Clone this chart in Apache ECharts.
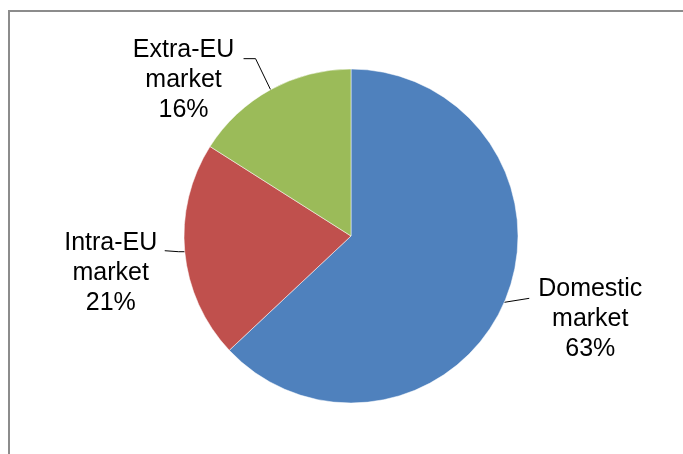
<!DOCTYPE html>
<html>
<head>
<meta charset="utf-8">
<script src="https://cdn.jsdelivr.net/npm/echarts@6/dist/echarts.min.js"></script>
<style>
html,body{margin:0;padding:0;background:#fff;}
#chart{width:683px;height:454px;}
</style>
</head>
<body>
<div id="chart"></div>
<script>
// Data
const categories = ['Domestic market', 'Intra-EU market', 'Extra-EU market'];
const labelLines = [['Domestic', 'market'], ['Intra-EU', 'market'], ['Extra-EU', 'market']];
const values = [63, 21, 16];
const colors = ['#4F81BD', '#C0504D', '#9BBB59'];

// Label placement relative to the slice edge point (styling only)
const labelOffset = [
  { line: [[25, -4]], tx: 86, ty: -28 },
  { line: [[-6, 0], [-20, -1]], tx: -74, ty: -24 },
  { line: [[-15, -31], [-27, -31]], tx: -87, ty: -55 }
];

const chart = echarts.init(document.getElementById('chart'), null, { renderer: 'canvas' });

const option = {
  animation: false,
  backgroundColor: '#fff',
  graphic: [
    { type: 'line', shape: { x1: 9, y1: 11, x2: 683, y2: 11 }, style: { stroke: '#8c8c8c', lineWidth: 2 } },
    { type: 'line', shape: { x1: 9, y1: 10, x2: 9, y2: 454 }, style: { stroke: '#8c8c8c', lineWidth: 2 } }
  ],
  series: [{
    type: 'pie',
    center: [351, 236],
    radius: [0, 167],
    startAngle: 90,
    clockwise: true,
    itemStyle: { borderColor: '#ffffff', borderWidth: 0.5 },
    label: {
      show: true,
      position: 'outside',
      fontFamily: 'Liberation Sans, Arial, sans-serif',
      fontSize: 25,
      lineHeight: 30,
      color: '#000',
      align: 'center',
      formatter: function (p) {
        return labelLines[p.dataIndex].join('\n') + '\n' + p.value + '%';
      }
    },
    labelLine: {
      show: true,
      length: 20,
      length2: 10,
      lineStyle: { color: '#000', width: 1 }
    },
    labelLayout: function (params) {
      const pts = params.labelLinePoints;
      if (!pts) return {};
      const e = pts[0];
      const o = labelOffset[params.dataIndex];
      const linePts = [[e[0], e[1]]].concat(o.line.map(function (d) { return [e[0] + d[0], e[1] + d[1]]; }));
      return {
        x: e[0] + o.tx,
        y: e[1] + o.ty,
        align: 'center',
        verticalAlign: 'top',
        labelLinePoints: linePts
      };
    },
    data: categories.map(function (c, i) {
      return { name: c, value: values[i], itemStyle: { color: colors[i] } };
    })
  }]
};
chart.setOption(option);
</script>
</body>
</html>
